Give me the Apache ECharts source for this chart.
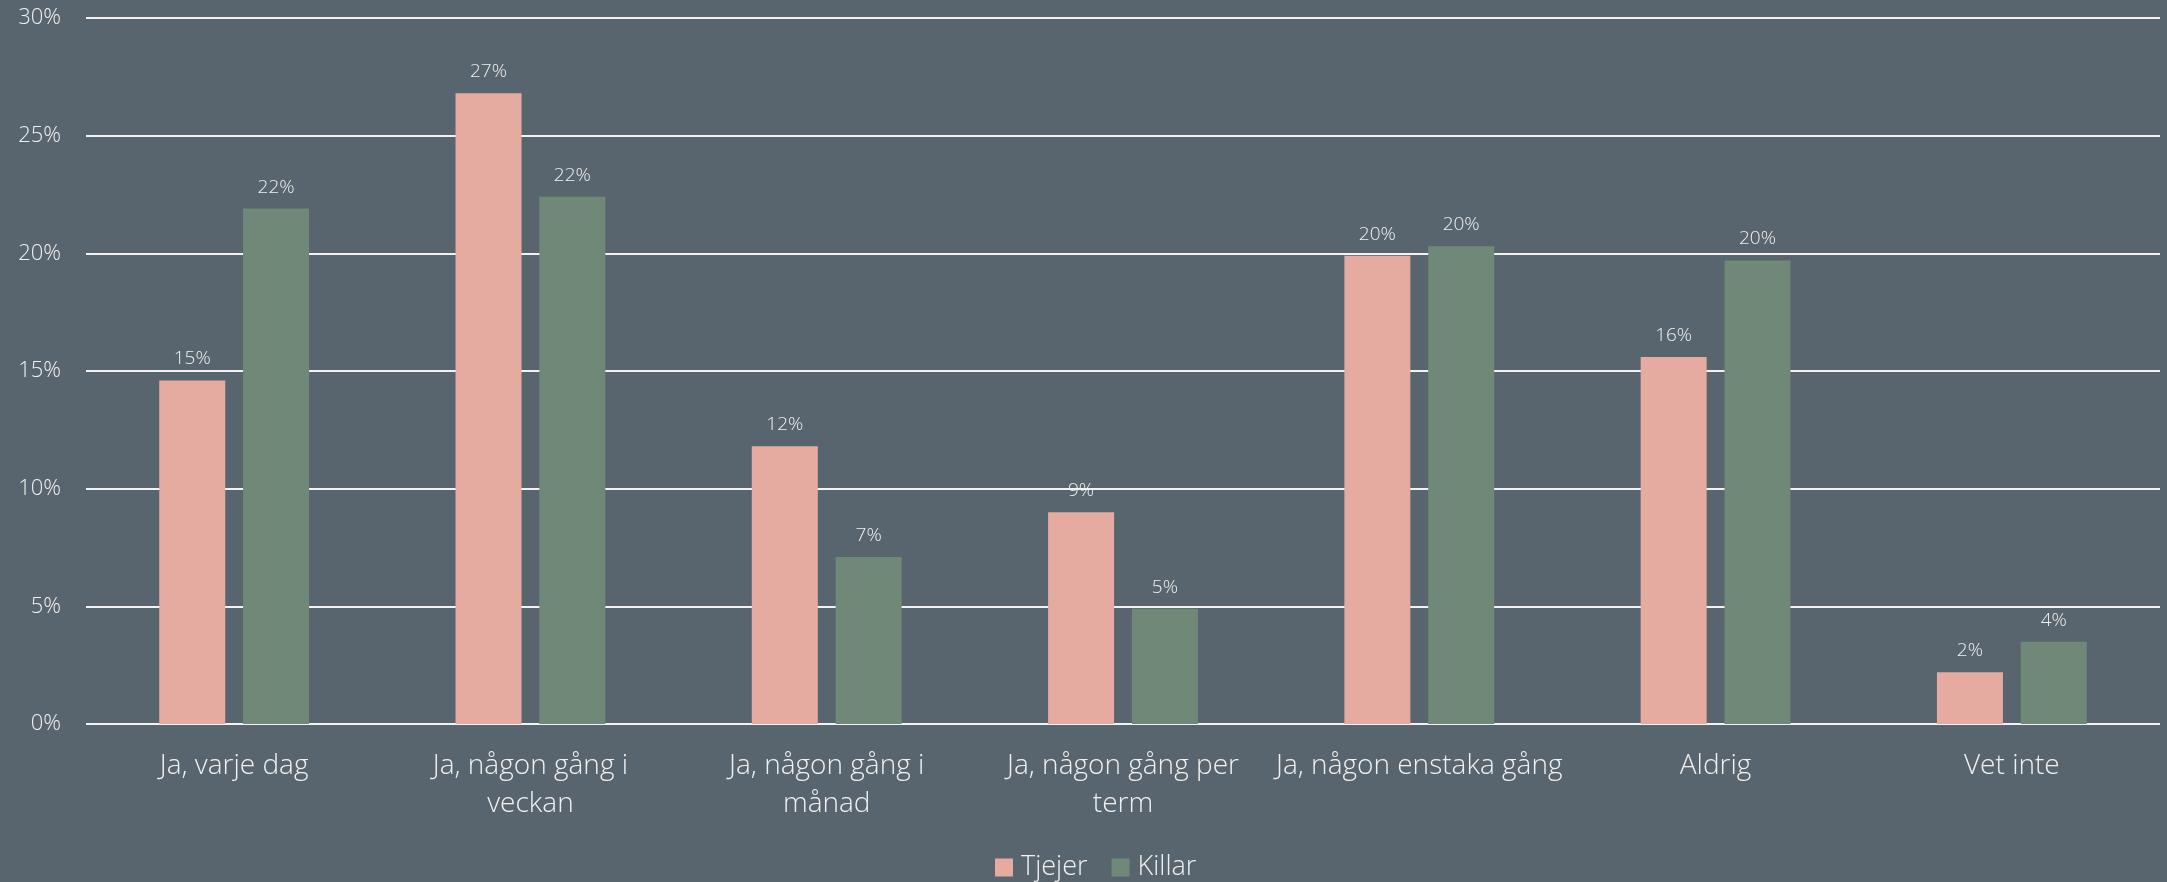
<!DOCTYPE html>
<html>
<head>
<meta charset="utf-8">
<script src="https://cdn.jsdelivr.net/npm/echarts@6/dist/echarts.min.js"></script>
<style>
  html, body { margin: 0; padding: 0; background: #59656e; }
  #chart { width: 2167px; height: 882px; }
</style>
</head>
<body>
<div id="chart"></div>
<script>
const categories = [
  'Ja, varje dag',
  'Ja, någon gång i\nveckan',
  'Ja, någon gång i\nmånad',
  'Ja, någon gång per\nterm',
  'Ja, någon enstaka gång',
  'Aldrig',
  'Vet inte',
];
const tjejer = [14.6, 26.8, 11.8, 9.0, 19.9, 15.6, 2.2];
const killar = [21.9, 22.4, 7.1, 4.9, 20.3, 19.7, 3.5];
const yTicks = { min: 0, max: 30, interval: 5 };

const font = '"Open Sans", "Noto Sans", sans-serif';
const textColor = '#f0f0f0';

const chart = echarts.init(document.getElementById('chart'));

const barLabel = {
  show: true,
  position: 'top',
  distance: 12,
  color: textColor,
  fontFamily: font,
  fontWeight: 300,
  fontSize: 19,
  formatter: (p) => Math.round(p.value) + '%',
};

chart.setOption({
  backgroundColor: '#59656e',
  animation: false,
  textStyle: { fontFamily: font },
  grid: { left: 86, right: 7, top: 18, bottom: 158 },
  legend: {
    data: ['Tjejer', 'Killar'],
    top: 849,
    left: 990,
    icon: 'rect',
    itemWidth: 18,
    itemHeight: 18,
    itemGap: 24,
    textStyle: { color: textColor, fontSize: 27, fontWeight: 300, fontFamily: font, padding: [0, 0, 0, 3] },
  },
  xAxis: {
    type: 'category',
    data: categories,
    axisLine: { show: false },
    axisTick: { show: false },
    axisLabel: {
      color: textColor,
      fontSize: 28,
      fontWeight: 300,
      lineHeight: 38,
      margin: 23,
      interval: 0,
      fontFamily: font,
    },
  },
  yAxis: {
    type: 'value',
    min: yTicks.min,
    max: yTicks.max,
    interval: yTicks.interval,
    axisLine: { show: false },
    axisTick: { show: false },
    axisLabel: {
      color: textColor,
      fontSize: 22,
      fontWeight: 300,
      margin: 25,
      fontFamily: font,
      formatter: '{value}%',
    },
    splitLine: { lineStyle: { color: '#f2f2f2', width: 2 } },
  },
  series: [
    {
      name: 'Tjejer',
      type: 'bar',
      data: tjejer,
      barWidth: 66,
      barGap: '27%',
      itemStyle: { color: '#e5aba0' },
      label: barLabel,
    },
    {
      name: 'Killar',
      type: 'bar',
      data: killar,
      barWidth: 66,
      itemStyle: { color: '#708878' },
      label: barLabel,
    },
  ],
});
</script>
</body>
</html>
